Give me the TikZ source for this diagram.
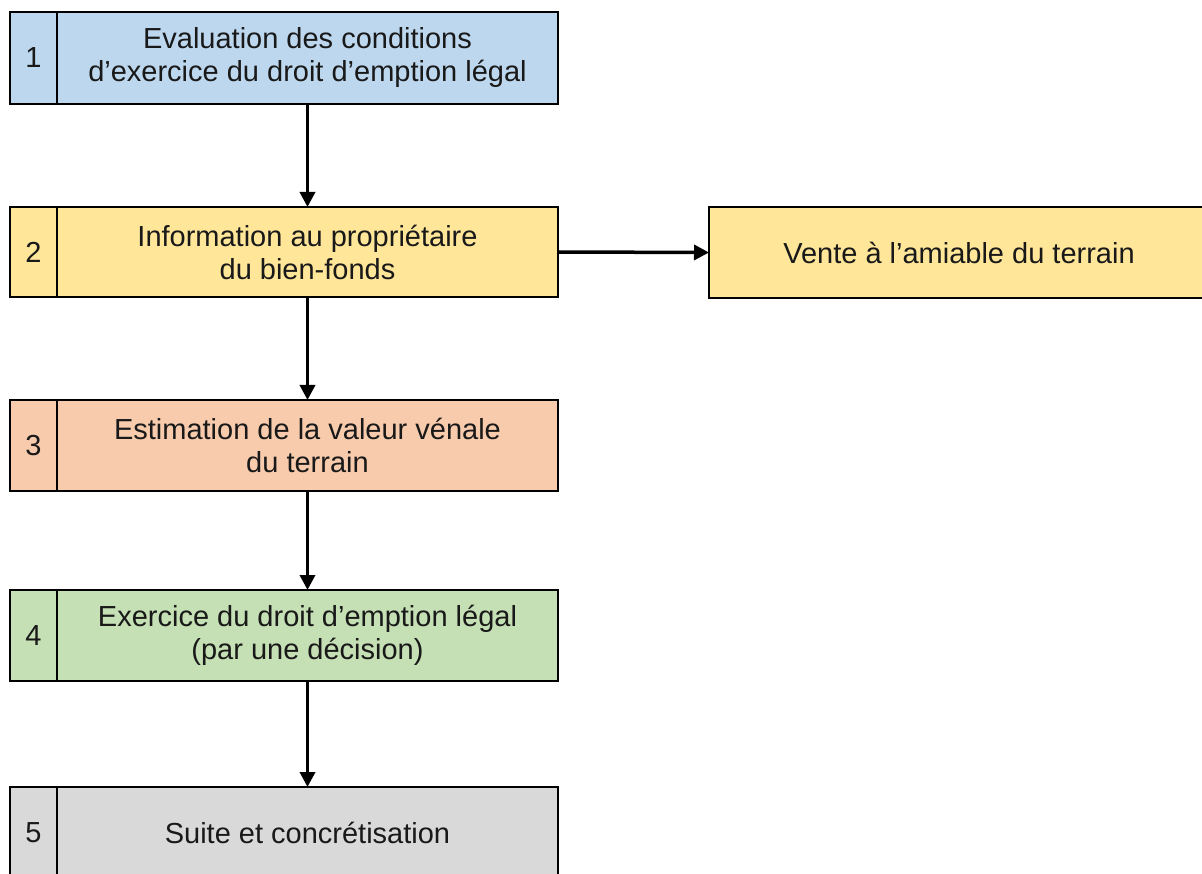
\documentclass[tikz,border=0pt]{standalone}
\usepackage{fontspec}
\setmainfont{Liberation Sans}
\usetikzlibrary{arrows.meta}
\definecolor{cblue}{HTML}{BDD7EE}
\definecolor{cyellow}{HTML}{FFE699}
\definecolor{corange}{HTML}{F8CBAD}
\definecolor{cgreen}{HTML}{C5E0B4}
\definecolor{cgray}{HTML}{D9D9D9}
\tikzset{
  cell/.style={draw=black, line width=2pt, rectangle, inner sep=0pt, outer sep=0pt, anchor=north west,
    font=\fontsize{29}{33}\selectfont, align=center, text=black!90},
  numcell/.style={cell, minimum width=47pt},
  txtcell/.style={cell, minimum width=501pt},
  arr/.style={line width=3.5pt, -{Triangle[length=15pt,width=15pt]}}
}
\begin{document}
\begin{tikzpicture}[x=1pt,y=-1pt]
\useasboundingbox (0,0) rectangle (1202,874);
\clip (0,0) rectangle (1202,874);
% box 1
\node[numcell, fill=cblue, minimum height=92pt] (n1) at (10,12) {1};
\node[txtcell, fill=cblue, minimum height=92pt] (t1) at (57,12) {Evaluation des conditions\\d’exercice du droit d’emption légal};
% box 2
\node[numcell, fill=cyellow, minimum height=90pt] (n2) at (10,207) {2};
\node[txtcell, fill=cyellow, minimum height=90pt] (t2) at (57,207) {Information au propriétaire\\du bien-fonds};
% right box
\node[cell, fill=cyellow, minimum width=500pt, minimum height=91pt] (r) at (709,207) {Vente à l’amiable du terrain};
% box 3
\node[numcell, fill=corange, minimum height=91pt] (n3) at (10,400) {3};
\node[txtcell, fill=corange, minimum height=91pt] (t3) at (57,400) {Estimation de la valeur vénale\\du terrain};
% box 4
\node[numcell, fill=cgreen, minimum height=91pt] (n4) at (10,590) {4};
\node[txtcell, fill=cgreen, minimum height=91pt] (t4) at (57,590) {Exercice du droit d’emption légal\\(par une décision)};
% box 5
\node[numcell, fill=cgray, minimum height=92pt] (n5) at (10,787) {5};
\node[txtcell, fill=cgray, minimum height=92pt] (t5) at (57,787) {Suite et concrétisation};
% arrows
\draw[arr] (t1.south) -- (t2.north);
\draw[arr] (t2.south) -- (t3.north);
\draw[arr] (t3.south) -- (t4.north);
\draw[arr] (t4.south) -- (t5.north);
\draw[arr] (t2.east) -- (r.west);
\end{tikzpicture}
\end{document}
